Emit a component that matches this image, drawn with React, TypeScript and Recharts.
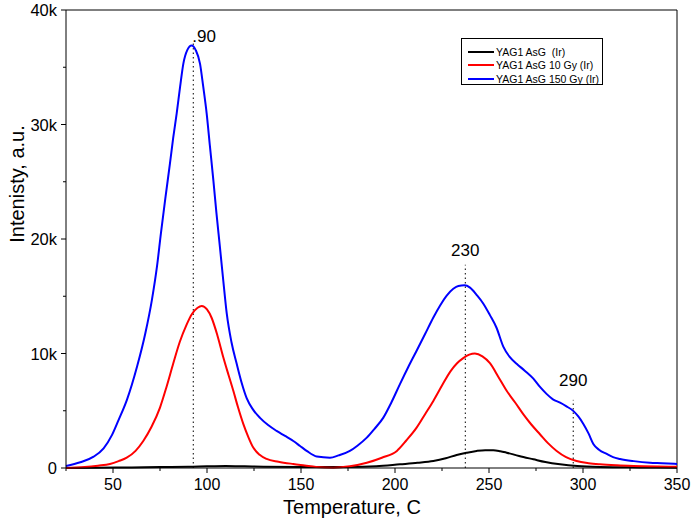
import {
  LineChart,
  Line,
  XAxis,
  YAxis,
  Legend,
  ReferenceLine,
  ReferenceDot,
} from 'recharts'

// temperature (C) and intensity readings for each sample
const blackT = [25, 40, 60, 75, 90, 100, 110, 120, 130, 150, 175, 190, 202.7, 212, 220.4, 227, 232.8, 238, 243.4, 248, 252.3, 256, 259.4, 266, 273.6, 280, 287.8, 297, 309, 330, 350]
const blackV = [0, 20, 50, 80, 100, 150, 180, 150, 110, 80, 90, 150, 320, 450, 610, 850, 1140, 1330, 1490, 1560, 1560, 1470, 1340, 1050, 760, 520, 320, 170, 90, 50, 30]

const redT = [25, 35, 42, 48.4, 53, 57.3, 62, 66.1, 70.5, 75, 78.5, 82, 85.5, 89.1, 92, 95, 97.2, 100, 102.5, 105.5, 108.7, 111.5, 114, 116.5, 119.3, 122, 124.6, 128, 131.7, 138, 145.9, 152, 158, 167.2, 176, 185, 193, 201, 206, 211.5, 216, 220.4, 225, 229.3, 233, 236.3, 239.5, 242.5, 246.5, 250.5, 255, 259.4, 264, 268.2, 272.5, 277.1, 281.5, 286, 291, 296.6, 303, 309, 318, 326.8, 340, 350]
const redV = [0, 80, 200, 350, 600, 900, 1500, 2360, 3600, 5280, 7100, 9100, 11000, 12500, 13450, 14000, 14150, 13850, 13100, 11600, 9650, 8100, 6740, 5300, 3850, 2700, 1780, 1150, 790, 550, 350, 220, 90, 30, 150, 460, 900, 1490, 2400, 3525, 4700, 5860, 7200, 8400, 9150, 9600, 9900, 10000, 9750, 9150, 7950, 6740, 5700, 4700, 3800, 2950, 2150, 1490, 950, 610, 420, 320, 230, 175, 130, 110]

const blueT = [25, 32.6, 39.7, 45, 49.5, 53, 57.4, 62.8, 67.2, 70.7, 73.4, 75.5, 77.8, 80.3, 82, 83.9, 85.7, 87.4, 89.5, 91.8, 94, 96.3, 98, 99.8, 101.5, 103.4, 105, 106.9, 108.7, 110.5, 113, 115.8, 118.5, 121.1, 124.5, 128.2, 132.5, 137, 141.5, 145.9, 149.5, 153, 158.4, 165.4, 170, 176, 180, 185, 189, 193.8, 198, 202.7, 207, 211.5, 216, 220.4, 224, 227.5, 231, 233.7, 237, 239.9, 243.5, 247, 250.5, 254, 257.6, 261, 264.7, 269, 273.6, 277, 280.6, 284, 287.8, 291, 294.8, 297.5, 300.2, 303, 305.5, 308.5, 312.6, 316, 319.7, 327, 335.6, 342, 350]
const blueV = [175, 500, 990, 1720, 2890, 4200, 5950, 8860, 11770, 14690, 17600, 20520, 23500, 26600, 28800, 31000, 33300, 35300, 36500, 36900, 36500, 35300, 33300, 31000, 28200, 25100, 22300, 19250, 16300, 13500, 11000, 9100, 7400, 6100, 5100, 4375, 3750, 3240, 2800, 2360, 1925, 1500, 1000, 900, 1100, 1490, 1950, 2650, 3400, 4400, 5700, 7350, 8800, 10240, 11700, 13150, 14200, 15050, 15650, 15900, 15950, 15750, 15100, 14350, 13350, 12250, 10600, 9700, 9100, 8500, 7800, 7100, 6475, 6000, 5700, 5400, 4990, 4500, 3850, 3000, 2100, 1600, 1225, 950, 790, 600, 460, 420, 350]

const X_TICKS = [25, 50, 75, 100, 125, 150, 175, 200, 225, 250, 275, 300, 325, 350]
const Y_TICKS = [0, 5000, 10000, 15000, 20000, 25000, 30000, 35000, 40000]

// peak markers: where the dotted line sits, how high it goes, label
const peakT = [92.7, 237.4, 294.8]
const peakTop = [37250, 17750, 5950]
const peakLabels = ['.90', '230', '290']
const peakLabelT = [98.5, 237.4, 294.8]
const peakLabelV = [37700, 19000, 7650]

const FONT = '"Liberation Sans", Arial, sans-serif'

const toSeries = (t: number[], v: number[]) => t.map((x, i) => ({ t: x, v: v[i] }))

const series = [
  { name: 'YAG1 AsG  (Ir)', color: '#000000', data: toSeries(blackT, blackV) },
  { name: 'YAG1 AsG 10 Gy (Ir)', color: '#ff0000', data: toSeries(redT, redV) },
  { name: 'YAG1 AsG 150 Gy (Ir)', color: '#0000ff', data: toSeries(blueT, blueV) },
]

function XTick({ x, y, payload }: any) {
  const major = payload.value % 50 === 0
  return (
    <g>
      <line x1={x} x2={x} y1={y} y2={y + (major ? 5 : 3)} stroke="#000" />
      {major && (
        <text x={x} y={y + 22} textAnchor="middle" fontSize={16} fill="#000" fontFamily={FONT}>
          {payload.value}
        </text>
      )}
    </g>
  )
}

function YTick({ x, y, payload }: any) {
  const major = payload.value % 10000 === 0
  return (
    <g>
      <line x1={x} x2={x - (major ? 5 : 3)} y1={y} y2={y} stroke="#000" />
      {major && (
        <text x={x - 9} y={y + 6} textAnchor="end" fontSize={16.5} fill="#000" fontFamily={FONT}>
          {payload.value === 0 ? '0' : `${payload.value / 1000}k`}
        </text>
      )}
    </g>
  )
}

function LegendBox({ payload }: any) {
  return (
    <div
      style={{
        border: '1px solid #000',
        background: '#fff',
        padding: '6px 0 0 6px',
        height: 47,
        boxSizing: 'border-box',
        fontFamily: FONT,
        fontSize: 10.5,
        color: '#000',
      }}
    >
      {(payload ?? []).map((p: any) => (
        <div key={p.value} style={{ display: 'flex', alignItems: 'center', height: 13.5, whiteSpace: 'pre' }}>
          <span style={{ display: 'inline-block', width: 26, height: 2, background: p.color, marginRight: 2 }} />
          <span>{p.value}</span>
        </div>
      ))}
    </div>
  )
}

export default function App() {
  return (
    <div style={{ position: 'absolute', left: 0, top: 0, background: '#fff' }}>
      <LineChart width={699} height={524} margin={{ top: 10, right: 22, bottom: 0, left: 8 }} style={{ fontFamily: FONT }}>
        <XAxis
          dataKey="t"
          type="number"
          domain={[25, 350]}
          ticks={X_TICKS}
          interval={0}
          allowDuplicatedCategory={false}
          tick={<XTick />}
          tickSize={0}
          tickMargin={0}
          tickLine={false}
          axisLine={{ stroke: '#000' }}
          height={56}
          label={() => (
            <text x={352} y={514} textAnchor="middle" fontSize={20} fill="#000" fontFamily={FONT}>
              Temperature, C
            </text>
          )}
        />
        <YAxis
          type="number"
          domain={[0, 40000]}
          ticks={Y_TICKS}
          interval={0}
          tick={<YTick />}
          tickSize={0}
          tickMargin={0}
          tickLine={false}
          axisLine={{ stroke: '#000' }}
          width={58}
          label={() => (
            <text
              x={0}
              y={0}
              transform="translate(24, 184) rotate(-90)"
              textAnchor="middle"
              fontSize={20}
              fill="#000"
              fontFamily={FONT}
            >
              Intenisty, a.u.
            </text>
          )}
        />
        <ReferenceLine y={40000} stroke="#000" />
        <ReferenceLine x={350} stroke="#000" />
        {peakT.map((t, i) => (
          <ReferenceLine
            key={`pl${i}`}
            segment={[{ x: t, y: 0 }, { x: t, y: peakTop[i] }]}
            stroke="#000"
            strokeDasharray="1.5 3"
          />
        ))}
        {peakLabels.map((lab, i) => (
          <ReferenceDot
            key={`pd${i}`}
            x={peakLabelT[i]}
            y={peakLabelV[i]}
            r={1}
            fill="none"
            stroke="none"
            label={{ value: lab, position: 'center', fontSize: 17, fill: '#000', fontFamily: FONT }}
          />
        ))}
        {series.map((s) => (
          <Line
            key={s.name}
            data={s.data}
            dataKey="v"
            name={s.name}
            type="monotone"
            stroke={s.color}
            strokeWidth={2}
            dot={false}
            isAnimationActive={false}
          />
        ))}
        <Legend
          layout="vertical"
          align="center"
          verticalAlign="middle"
          content={<LegendBox />}
          wrapperStyle={{ left: 461, top: 38, width: 142 }}
        />
      </LineChart>
    </div>
  )
}
